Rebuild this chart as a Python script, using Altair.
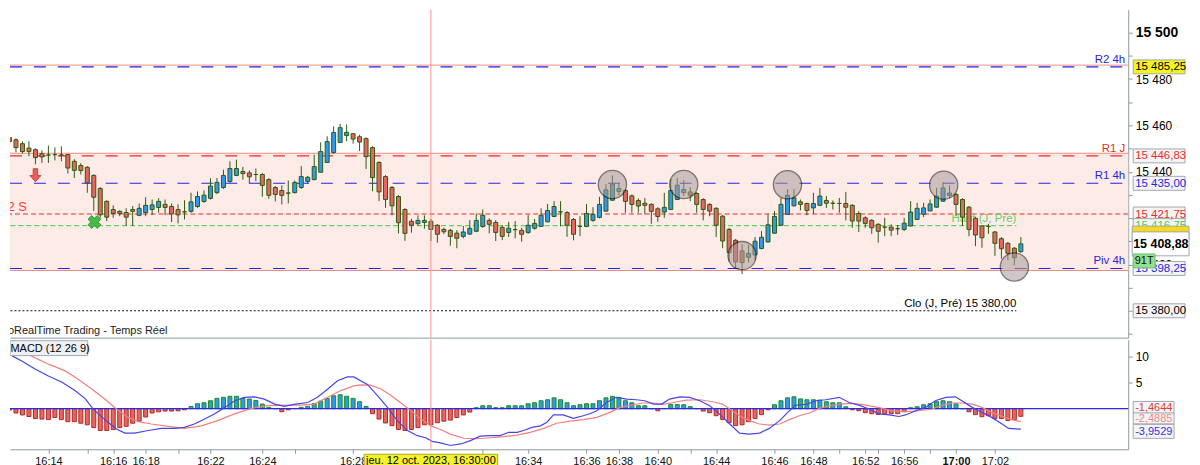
import pandas as pd
import altair as alt

FONT = 'Liberation Sans'
GREY = '#8f99a3'

# ---- price bars (tick chart, oldest first) ----
opens = [
    15454.6, 15454.7, 15453.8, 15452.1, 15450.2, 15449.5, 15447.8, 15447.2, 15447.4, 15447.2,
    15447.4, 15444.5, 15442.7, 15441.9, 15438.4, 15432.8, 15427.2, 15423.7, 15422.9, 15422.4,
    15423.7, 15421.2, 15422.4, 15423.7, 15424.6, 15425.9, 15425.0, 15423.7, 15422.7, 15422.9,
    15425.0, 15427.2, 15428.5, 15431.0, 15433.2, 15435.8, 15438.4, 15440.1, 15439.5, 15438.8,
    15438.8, 15436.6, 15433.2, 15431.9, 15430.8, 15431.0, 15433.2, 15435.8, 15436.6, 15439.8,
    15444.0, 15448.3, 15452.6, 15455.6, 15456.4, 15455.1, 15454.3, 15450.4, 15444.0, 15437.9,
    15433.2, 15429.3, 15423.7, 15418.6, 15417.6, 15418.1, 15418.6, 15416.9, 15415.1, 15414.7,
    15413.5, 15412.1, 15413.1, 15414.3, 15416.4, 15419.0, 15418.1, 15416.0, 15413.8, 15415.0,
    15414.7, 15413.8, 15415.6, 15416.4, 15418.4, 15420.7, 15422.7, 15422.4, 15419.4, 15416.4,
    15416.4, 15419.0, 15420.3, 15423.0, 15427.7, 15431.5, 15431.9, 15429.6, 15427.6, 15426.4,
    15425.9, 15424.0, 15422.6, 15423.7, 15428.0, 15431.0, 15431.3, 15430.6, 15428.0, 15425.9,
    15424.2, 15420.8, 15415.1, 15410.4, 15405.8, 15403.1, 15404.1, 15406.9, 15409.7, 15413.5,
    15416.9, 15421.6, 15425.3, 15427.0, 15426.3, 15424.4, 15425.5, 15427.6, 15426.4, 15426.3,
    15426.3, 15425.5, 15422.0, 15420.1, 15419.0, 15417.3, 15416.1, 15416.1, 15415.4, 15415.1,
    15416.6, 15419.4, 15421.6, 15423.1, 15424.7, 15427.3, 15429.8, 15430.2, 15428.0, 15424.7,
    15419.9, 15416.6, 15416.4, 15414.0, 15411.1, 15409.1, 15407.0, 15405.5]
highs = [
    15457.0, 15455.3, 15454.4, 15453.1, 15453.1, 15450.1, 15449.2, 15451.3, 15450.5, 15451.0,
    15447.8, 15445.4, 15443.7, 15442.4, 15438.9, 15433.3, 15427.7, 15425.5, 15423.4, 15424.2,
    15425.2, 15426.3, 15429.0, 15428.0, 15428.6, 15428.0, 15426.3, 15425.9, 15427.7, 15430.9,
    15431.5, 15432.0, 15437.2, 15437.3, 15440.9, 15444.5, 15445.2, 15442.1, 15440.6, 15441.4,
    15439.4, 15437.2, 15433.8, 15434.1, 15436.2, 15436.2, 15442.4, 15438.2, 15447.4, 15452.7,
    15455.3, 15459.6, 15460.7, 15460.4, 15456.7, 15456.0, 15454.8, 15451.0, 15444.5, 15438.5,
    15433.8, 15429.9, 15424.3, 15419.7, 15421.2, 15421.2, 15419.6, 15417.4, 15415.8, 15415.3,
    15414.8, 15416.6, 15419.1, 15422.0, 15423.7, 15419.9, 15419.1, 15417.0, 15418.4, 15418.7,
    15415.8, 15421.3, 15419.6, 15424.2, 15426.1, 15427.3, 15427.3, 15423.0, 15420.0, 15420.8,
    15426.1, 15424.7, 15429.2, 15434.7, 15438.4, 15435.2, 15432.5, 15430.2, 15428.5, 15428.7,
    15426.4, 15424.7, 15430.9, 15436.6, 15437.3, 15436.3, 15433.3, 15431.2, 15428.6, 15426.4,
    15424.7, 15421.3, 15415.7, 15411.0, 15408.7, 15408.4, 15411.8, 15414.4, 15421.6, 15423.0,
    15428.7, 15432.5, 15432.6, 15428.0, 15426.6, 15430.9, 15433.0, 15429.5, 15427.6, 15428.7,
    15431.3, 15426.0, 15423.0, 15420.8, 15419.6, 15417.8, 15420.1, 15417.3, 15417.0, 15420.1,
    15427.3, 15426.6, 15426.6, 15428.0, 15433.0, 15435.5, 15434.1, 15430.8, 15428.6, 15425.2,
    15420.4, 15417.0, 15417.5, 15414.4, 15411.8, 15409.7, 15407.5, 15411.8]
lows = [
    15452.3, 15451.4, 15448.4, 15447.9, 15446.7, 15443.2, 15443.8, 15443.8, 15444.9, 15444.5,
    15439.2, 15437.3, 15438.8, 15430.9, 15423.0, 15420.1, 15418.7, 15420.1, 15420.8, 15416.6,
    15416.6, 15420.8, 15420.8, 15421.3, 15422.3, 15421.2, 15418.3, 15417.7, 15419.4, 15422.3,
    15424.4, 15426.6, 15428.0, 15430.4, 15432.6, 15435.2, 15438.1, 15436.6, 15434.9, 15435.9,
    15429.2, 15428.3, 15427.2, 15425.9, 15426.3, 15430.6, 15432.6, 15434.9, 15436.3, 15439.5,
    15443.8, 15447.8, 15452.4, 15453.2, 15452.1, 15448.9, 15441.2, 15431.6, 15427.3, 15424.4,
    15421.2, 15413.4, 15410.2, 15413.7, 15416.6, 15415.4, 15410.1, 15409.4, 15413.1, 15408.1,
    15407.0, 15411.3, 15412.7, 15413.9, 15415.8, 15413.4, 15410.1, 15410.5, 15411.8, 15411.3,
    15409.8, 15413.2, 15415.0, 15416.3, 15418.1, 15420.4, 15416.4, 15411.9, 15410.4, 15412.2,
    15416.1, 15418.4, 15419.9, 15422.7, 15427.6, 15429.8, 15422.3, 15422.3, 15422.3, 15421.8,
    15417.5, 15418.4, 15420.1, 15423.6, 15427.9, 15429.6, 15427.3, 15422.3, 15419.0, 15420.8,
    15411.8, 15407.0, 15401.2, 15398.2, 15395.8, 15400.8, 15401.8, 15406.5, 15409.4, 15413.2,
    15416.6, 15421.3, 15425.0, 15423.3, 15421.2, 15421.8, 15425.2, 15424.4, 15423.7, 15422.3,
    15419.0, 15415.8, 15414.0, 15415.8, 15413.2, 15409.4, 15412.2, 15412.2, 15412.7, 15414.4,
    15416.4, 15419.1, 15420.4, 15423.0, 15424.4, 15427.0, 15428.7, 15420.8, 15416.6, 15412.2,
    15407.9, 15407.2, 15413.2, 15403.7, 15402.5, 15401.9, 15399.7, 15405.1]
closes = [
    15454.6, 15453.0, 15450.4, 15448.7, 15448.7, 15446.1, 15446.4, 15447.2, 15447.4, 15447.2,
    15441.6, 15440.6, 15440.5, 15435.2, 15429.0, 15421.4, 15420.4, 15422.0, 15422.0, 15420.4,
    15422.9, 15424.2, 15425.5, 15425.7, 15427.2, 15424.6, 15421.8, 15421.4, 15422.7, 15427.0,
    15429.3, 15429.9, 15433.8, 15435.4, 15438.4, 15441.4, 15441.4, 15439.2, 15437.8, 15438.8,
    15434.1, 15429.8, 15430.2, 15429.8, 15430.8, 15435.4, 15437.9, 15437.6, 15442.2, 15448.7,
    15453.0, 15456.9, 15459.0, 15457.0, 15454.1, 15452.8, 15446.5, 15437.5, 15431.3, 15428.0,
    15425.3, 15418.0, 15413.4, 15416.9, 15419.0, 15419.0, 15415.1, 15413.0, 15414.1, 15412.1,
    15411.3, 15414.0, 15415.6, 15419.0, 15421.2, 15417.3, 15413.8, 15412.1, 15415.6, 15415.0,
    15413.0, 15416.9, 15417.7, 15421.2, 15423.3, 15425.0, 15422.7, 15416.9, 15413.0, 15416.4,
    15422.0, 15421.6, 15425.9, 15432.2, 15434.7, 15432.8, 15427.2, 15425.9, 15425.2, 15425.5,
    15422.9, 15420.7, 15424.6, 15431.9, 15434.2, 15432.3, 15429.8, 15425.9, 15423.7, 15423.0,
    15416.9, 15410.1, 15405.1, 15401.1, 15400.8, 15404.8, 15410.0, 15411.7, 15417.1, 15420.7,
    15425.9, 15429.8, 15428.7, 15425.9, 15423.3, 15426.3, 15429.5, 15426.4, 15426.4, 15426.3,
    15424.7, 15418.7, 15418.7, 15417.7, 15415.8, 15414.3, 15416.1, 15414.8, 15415.4, 15417.8,
    15422.6, 15424.2, 15424.4, 15426.1, 15429.5, 15433.0, 15430.8, 15425.9, 15420.4, 15415.1,
    15412.7, 15411.5, 15416.4, 15409.1, 15406.8, 15404.8, 15402.9, 15408.88]

# ---- MACD (12 26 9) ----
hist = [
    0.45, -0.26, -0.83, -1.2, -1.5, -1.9, -2.0, -2.1, -1.7, -2.1,
    -2.5, -2.5, -2.8, -3.1, -3.65, -4.2, -4.2, -4.0, -3.65, -3.4,
    -2.8, -2.4, -1.6, -0.83, -0.6, -0.45, -0.45, -0.4, -0.2, 0.45,
    0.96, 1.15, 1.54, 2.0, 2.2, 2.4, 2.4, 2.0, 1.86, 1.6,
    0.9, 0.26, 0.0, -0.58, -0.2, 0.05, 0.26, 0.45, 1.0, 1.47,
    2.0, 2.5, 2.7, 2.4, 2.0, 1.35, 0.45, -0.96, -2.0, -2.75,
    -3.27, -4.0, -4.2, -4.0, -3.65, -3.1, -3.1, -2.7, -2.4, -2.2,
    -1.7, -1.2, -0.64, 0.2, 0.58, 0.58, 0.2, 0.2, 0.58, 0.58,
    0.58, 0.96, 1.15, 1.54, 1.73, 2.1, 1.73, 1.15, 0.58, 0.77,
    0.96, 0.96, 1.54, 2.1, 2.4, 2.2, 1.54, 1.15, 0.58, 0.58,
    0.0, -0.4, 0.05, 0.83, 0.83, 0.77, 0.4, 0.0, -0.45, -0.77,
    -1.35, -2.1, -2.7, -3.27, -3.1, -2.5, -1.9, -1.15, -0.2, 0.77,
    1.54, 2.1, 2.3, 1.9, 1.73, 1.73, 1.67, 1.35, 1.15, 1.15,
    0.38, -0.2, -0.38, -0.77, -0.96, -1.1, -0.96, -0.96, -0.96, -0.58,
    0.2, 0.38, 0.77, 0.96, 1.35, 1.54, 1.35, 0.96, 0.0, -0.58,
    -1.15, -1.54, -1.35, -1.9, -1.9, -2.3, -2.1, -1.4644]
macd_i = [1.4, 2.9, 5.0, 7.0, 9.1, 11.1, 12.7, 13.7, 14.7, 16.2, 17.5, 18.8, 20.3, 22.4, 24.4,
          26.5, 28.0, 29.6, 31.1, 32.6, 34.2, 35.7, 37.2, 38.8, 40.3, 41.9, 43.4, 44.9, 47.0,
          48.5, 50.1, 51.6, 53.1, 54.1, 56.2, 57.8, 59.3, 60.8, 62.4, 63.9, 65.2, 66.2, 67.5,
          69.0, 70.6, 72.1, 73.6, 75.2, 76.7, 78.0, 79.3, 80.3, 81.6, 82.9, 83.9, 84.9, 86.4,
          88.0, 89.5, 90.5, 91.6, 93.1, 94.6, 96.2, 97.7, 99.0, 100.3, 101.6, 102.8, 104.4,
          105.9, 107.5, 109.0, 110.5, 112.1, 113.6, 115.1, 116.7, 118.2, 119.8, 121.3, 122.3,
          123.9, 125.4, 126.9, 129.0, 130.5, 132.0, 133.6, 135.1, 136.7, 138.2, 139.2, 140.8,
          142.3, 143.8, 145.4, 146.9, 147.9, 149.5, 151.0, 152.5, 154.1, 155.1, 156.2, 157.0]
macd_v = [10.2, 9.2, 7.6, 6.3, 5.1, 3.5, 1.9, 0.26, -1.0, -2.6, -3.9, -4.7, -4.7, -4.2, -3.8,
          -3.8, -3.6, -2.9, -2.0, -1.0, 0.26, 1.5, 2.2, 2.3, 1.86, 0.9, 0.45, 0.83, 1.2,
          2.2, 3.8, 5.4, 6.15, 6.15, 4.7, 2.5, 0.26, -2.3, -4.2, -5.2, -5.6, -6.3, -6.6,
          -7.1, -6.8, -6.15, -5.3, -5.2, -5.2, -4.55, -4.55, -4.2, -3.6, -3.3, -2.6, -1.2, -1.2,
          -1.86, -1.35, -0.96, -0.38, 1.2, 2.2, 1.86, 1.73, 1.54, 0.9, 0.9, 1.86, 2.3,
          2.2, 1.54, 0.58, -1.0, -2.95, -4.7, -4.9, -4.7, -3.8, -2.3, -0.38, 0.7,
          0.83, 1.54, 1.73, 2.2, 1.2, 0.7, -0.06, -1.0, -1.2, -1.5, -1.2, -0.38,
          0.26, 1.54, 2.2, 2.3, 1.54, 0.26, -0.7, -1.67, -2.95, -3.8, -3.9, -3.9529]
sig_i = [4.0, 7.0, 9.6, 11.6, 13.7, 15.7, 17.5, 19.3, 20.9, 22.9, 25.5, 28.0, 30.6, 33.1, 35.7,
         38.3, 40.8, 43.4, 46.0, 48.0, 50.1, 52.1, 54.1, 55.2, 56.7, 58.3, 59.8, 61.3, 62.9,
         64.4, 65.9, 67.5, 69.0, 71.1, 73.1, 75.2, 77.2, 79.3, 81.3, 83.4, 85.4, 87.5, 89.5,
         91.6, 93.6, 95.2, 97.2, 98.7, 100.3, 101.8, 103.4, 105.4, 107.5, 109.5, 111.0, 112.1,
         113.6, 115.1, 116.7, 118.2, 119.8, 121.3, 122.8, 124.4, 125.9, 127.5, 129.0, 131.0,
         133.1, 135.1, 137.2, 139.2, 141.3, 143.3, 144.9, 146.4, 147.9, 149.5, 151.0, 152.5,
         154.1, 155.6, 157.0]
sig_v = [10.4, 8.6, 7.3, 5.7, 3.8, 1.86, -0.06, -1.67, -2.5, -2.95, -3.4, -3.8, -3.3, -2.3, -1.0,
         0.06, 0.58, 0.7, 0.7, 0.9, 2.2, 3.5, 4.4, 4.6, 4.55, 3.8, 2.6, 1.2, -0.38,
         -1.86, -3.27, -4.0, -4.9, -5.7, -5.8, -5.6, -5.4, -5.1, -4.55, -3.8, -2.8, -2.4, -2.1,
         -1.67, -0.7, 0.26, 0.77, 1.1, 1.1, 0.83, 1.2, 1.67, 1.73, 1.35, 0.9, -0.06,
         -1.35, -2.3, -2.95, -3.15, -2.95, -2.1, -1.35, -0.83, 0.06, 0.58, 0.9, 1.03,
         0.7, 0.2, -0.38, -0.58, -0.38, -0.06, 0.7, 1.1, 1.1, 0.9, 0.26, -0.7,
         -1.47, -2.1, -2.4885]

# ---- levels ----
band_top, band_bottom = 15448.0, 15397.4
lev_p = [15486.0, 15485.25, 15448.0, 15446.83, 15435.0, 15421.75, 15398.25, 15397.4]
lev_col = ['#f5a3a3', '#2424e0', '#f08a80', '#ee2b2b', '#2424e0', '#ee2b2b', '#2424e0', '#f08a80']
lev_dash = [[1, 0], [12, 12], [1, 0], [12, 12], [12, 12], [5, 3], [12, 12], [1, 0]]
prev_p = [15416.75, 15380.0]
prev_col = ['#63d063', '#111111']
prev_dash = [[5, 3], [2, 2]]
prev_txt = ['Haut (J, Pré)', 'Clo (J, Pré) 15 380,00']
prev_end = 156.3

tag_p = [15485.25, 15446.83, 15435.0, 15398.25]
tag_txt = ['R2 4h', 'R1 J', 'R1 4h', 'Piv 4h']
tag_col = ['#2424e0', '#ee2b2b', '#2424e0', '#2424e0']

box_p = [15485.25, 15446.83, 15435.0, 15421.75, 15416.75, 15398.25, 15380.0]
box_txt = ['15 485,25', '15 446,83', '15 435,00', '15 421,75', '15 416,75', '15 398,25', '15 380,00']
box_col = ['#000000', '#ee2b2b', '#2424e0', '#ee2b2b', '#55c855', '#2424e0', '#000000']
box_bg = ['#f4f420', '#f4f4f4', '#f4f4f4', '#f4f4f4', '#f4f4f4', '#f4f4f4', '#f4f4f4']
hidden_box_p = [15413.5]
last_p = [15408.88]
last_txt = ['15 408,88']

circle_i = [94.0, 105.0, 121.0, 114.0, 145.1, 156.0]
circle_p = [15434.5, 15434.5, 15434.4, 15403.8, 15434.2, 15398.9]
arrow_i, arrow_p = [5.0], [15438.5]
cross_i, cross_p = [14.1], [15418.3]
cursor_i = [66]
cursor_txt = ['jeu. 12 oct. 2023, 16:30:00']

tick_idx = [7, 13, 17, 22, 27, 32, 40, 45, 54, 74, 81, 90, 95, 101, 106, 110, 119, 125,
            129, 133, 135, 139, 143, 147, 153]
label_idx = [7, 17, 22, 32, 40, 54, 74, 81, 90, 95, 101, 110, 119, 125, 133, 139, 147, 153]
label_txt = ['16:14', '16:16', '16:18', '16:22', '16:24', '16:28', '16:32', '16:34', '16:36',
             '16:38', '16:40', '16:44', '16:46', '16:48', '16:52', '16:56', '17:00', '17:02']

macd_box_txt = ['-1,4644', '-2,4885', '-3,9529']
macd_box_col = ['#e03c3c', '#f08a8a', '#3333dd']

# ---- layout ----
W, H_PRICE, H_MACD = 1122, 329, 110
x_scale = alt.Scale(domain=[1.076, 173.56], nice=False, zero=False, padding=0)
p_scale = alt.Scale(domain=[15368.39, 15509.89], nice=False, zero=False, padding=0)
m_scale = alt.Scale(domain=[-7.83, 13.33], nice=False, zero=False, padding=0)

x_axis_top = alt.Axis(labels=False, ticks=False, grid=False, domainColor=GREY,
                      minExtent=0, maxExtent=0, title=None)
lbl_expr = ("[" + ",".join(f"'{t}'" for t in label_txt) + "][indexof(["
            + ",".join(str(v) for v in label_idx) + "], datum.value)] || ''")
x_axis_bot = alt.Axis(values=tick_idx, labelExpr=lbl_expr, labelFontSize=11, labelColor='#111',
                      labelFontWeight={'condition': {'test': 'datum.value == 147', 'value': 'bold'},
                                       'value': 'normal'},
                      tickColor=GREY, tickSize=4, domainColor=GREY, grid=False,
                      labelOverlap=False, labelFlush=False, labelPadding=2, title=None)
p_axis = alt.Axis(orient='right', values=list(range(15370, 15510, 10)),
                  labelExpr="datum.value % 20 == 0 ? replace(format(datum.value, ','), ',', ' ') : ''",
                  labelFontSize={'condition': {'test': 'datum.value == 15500', 'value': 14}, 'value': 12},
                  labelFontWeight={'condition': {'test': 'datum.value == 15500', 'value': 'bold'},
                                   'value': 'normal'},
                  labelColor='#000', tickColor=GREY, tickSize=4, domainColor=GREY, grid=False,
                  labelPadding=3, title=None)
m_axis = alt.Axis(orient='right', values=[10, 5], labelFontSize=12, labelColor='#000',
                  tickColor=GREY, tickSize=4, domainColor=GREY, grid=False, labelPadding=3,
                  title=None)


def tx(f):
    return alt.X(f, type='quantitative', scale=x_scale, axis=x_axis_top)


def ty(f):
    return alt.Y(f, type='quantitative', scale=p_scale, axis=p_axis)


def bx(f):
    return alt.X(f, type='quantitative', scale=x_scale, axis=x_axis_bot)


def by(f):
    return alt.Y(f, type='quantitative', scale=m_scale, axis=m_axis)


def box_shape(w, h):
    r = h / w
    return f"M-1,-{r:.4f}L1,-{r:.4f}L1,{r:.4f}L-1,{r:.4f}Z"


candles = pd.DataFrame({'i': range(len(opens)), 'o': opens, 'h': highs, 'l': lows, 'c': closes})
candles['dir'] = ['up' if c > o else 'down' for o, c in zip(opens, closes)]

# ---- price panel ----
layers = []
layers.append(alt.Chart(pd.DataFrame({'top': [band_top], 'bot': [band_bottom]}))
              .mark_rect(color='#fdebe8')
              .encode(x=alt.value(0), x2=alt.value(W), y=ty('top'), y2='bot'))
for p, col, dash in zip(lev_p, lev_col, lev_dash):
    off = 18 if dash == [12, 12] else 0
    layers.append(alt.Chart(pd.DataFrame({'p': [p]}))
                  .mark_rule(color=col, strokeDash=dash, strokeDashOffset=off, strokeWidth=1.1)
                  .encode(y=ty('p')))
prev = pd.DataFrame({'p': prev_p, 't': prev_txt, 'x0': [-5, -5], 'x1': [prev_end, prev_end]})
for k in range(len(prev_p)):
    layers.append(alt.Chart(prev.iloc[[k]])
                  .mark_rule(color=prev_col[k], strokeDash=prev_dash[k], strokeWidth=1.1, clip=True)
                  .encode(x=tx('x0'), x2='x1', y=ty('p')))
    layers.append(alt.Chart(prev.iloc[[k]])
                  .mark_text(align='right', baseline='middle', dy=-7, fontSize=11.5,
                             color=prev_col[k] if k == 0 else '#000')
                  .encode(x=tx('x1'), y=ty('p'), text='t:N'))
layers.append(alt.Chart(candles).mark_rule(color='#2d5a12', strokeWidth=1, clip=True)
              .encode(x=tx('i'), y=ty('l'), y2='h'))
layers.append(alt.Chart(candles).mark_bar(width=4, stroke='#2d5a12', strokeWidth=1, clip=True)
              .encode(x=tx('i'), y=ty('o'), y2='c',
                      fill=alt.Fill('dir:N', scale=alt.Scale(domain=['up', 'down'],
                                                             range=['#2f9be8', '#e8665d']),
                                    legend=None)))
layers.append(alt.Chart(pd.DataFrame({'i': circle_i, 'p': circle_p}))
              .mark_circle(size=800, color='#a89a9a', opacity=0.55, stroke='#111',
                           strokeWidth=1.3, strokeOpacity=1)
              .encode(x=tx('i'), y=ty('p')))
layers.append(alt.Chart(pd.DataFrame({'i': arrow_i, 'p': arrow_p}))
              .mark_point(shape='M-0.35,-1L0.35,-1L0.35,0.05L0.85,0.05L0,1L-0.85,0.05L-0.35,0.05Z',
                          size=169, filled=True, fill='#ee5a5a', stroke='#c03030',
                          strokeWidth=0.8, opacity=1)
              .encode(x=tx('i'), y=ty('p')))
layers.append(alt.Chart(pd.DataFrame({'i': cross_i, 'p': cross_p}))
              .mark_point(shape='cross', angle=45, size=170, filled=True, fill='#44bb44',
                          stroke='#2e8b2e', strokeWidth=0.8, opacity=1)
              .encode(x=tx('i'), y=ty('p')))
layers.append(alt.Chart(pd.DataFrame({'p': tag_p, 't': tag_txt, 'c': tag_col}))
              .mark_text(align='right', baseline='middle', dy=-7, fontSize=11.5)
              .encode(x=alt.value(1119), y=ty('p'), text='t:N', color=alt.Color('c:N', scale=None)))
layers.append(alt.Chart(pd.DataFrame({'p': [15421.75], 't': ['nR2 S']}))
              .mark_text(align='right', baseline='middle', dy=-7, fontSize=13, color='#ff3b3b',
                         clip=True)
              .encode(x=alt.value(17), y=ty('p'), text='t:N'))
layers.append(alt.Chart(pd.DataFrame({'t': ['ProRealTime Trading - Temps Réel']}))
              .mark_text(align='left', baseline='middle', fontSize=11, color='#222', clip=True)
              .encode(x=alt.value(-13), y=alt.value(322), text='t:N'))
layers.append(alt.Chart(pd.DataFrame({'i': cursor_i}))
              .mark_rule(color='#ff9090', strokeWidth=1).encode(x=tx('i')))
pbox = pd.DataFrame({'p': box_p, 't': box_txt, 'c': box_col, 'bg': box_bg})
layers.append(alt.Chart(pbox)
              .mark_point(shape=box_shape(52, 14), size=52 * 52, filled=True, opacity=1,
                          stroke='#a0a8b0', strokeWidth=1, clip=False)
              .encode(x=alt.value(1153), y=ty('p'), fill=alt.Fill('bg:N', scale=None)))
layers.append(alt.Chart(pbox)
              .mark_text(align='left', baseline='middle', fontSize=11.5, dy=0.5, clip=False)
              .encode(x=alt.value(1129), y=ty('p'), text='t:N', color=alt.Color('c:N', scale=None)))
layers.append(alt.Chart(pd.DataFrame({'p': hidden_box_p}))
              .mark_point(shape=box_shape(57, 14), size=57 * 57, filled=True, opacity=1,
                          fill='#f8d81a', stroke='#a0a8b0', strokeWidth=1, clip=False)
              .encode(x=alt.value(1154.5), y=ty('p')))
layers.append(alt.Chart(pd.DataFrame({'p': last_p, 't': last_txt}))
              .mark_point(shape=box_shape(57, 24), size=57 * 57, filled=True, opacity=1,
                          fill='#ffffff', stroke='#a0a8b0', strokeWidth=1, clip=False)
              .encode(x=alt.value(1154.5), y=ty('p')))
layers.append(alt.Chart(pd.DataFrame({'p': last_p, 't': last_txt}))
              .mark_text(align='left', baseline='middle', fontSize=12.5, fontWeight='bold',
                         color='#000', clip=False)
              .encode(x=alt.value(1127), y=ty('p'), text='t:N'))
layers.append(alt.Chart(pd.DataFrame({'t': ['91T']}))
              .mark_point(shape=box_shape(22, 14), size=22 * 22, filled=True, opacity=1,
                          fill='#8fe08f', stroke='#6fbf6f', strokeWidth=1, clip=False)
              .encode(x=alt.value(1138), y=alt.value(252)))
layers.append(alt.Chart(pd.DataFrame({'t': ['91T']}))
              .mark_text(align='center', baseline='middle', fontSize=11, color='#111', clip=False)
              .encode(x=alt.value(1138), y=alt.value(252.5), text='t:N'))

price = alt.layer(*layers).properties(width=W, height=H_PRICE)

# ---- MACD panel ----
hdf = pd.DataFrame({'i': range(len(hist)), 'h': hist})
hdf['s'] = ['p' if v >= 0 else 'n' for v in hist]
mlayers = []
mlayers.append(alt.Chart(hdf).mark_bar(width=4, strokeWidth=1, clip=True)
               .encode(x=bx('i'), y=by('h'), y2=alt.datum(0),
                       fill=alt.Fill('s:N', scale=alt.Scale(domain=['p', 'n'],
                                                            range=['#4ccc4c', '#e8706a']),
                                     legend=None),
                       stroke=alt.Stroke('s:N', scale=alt.Scale(domain=['p', 'n'],
                                                                range=['#1f8a1f', '#b02a2a']),
                                         legend=None)))
mlayers.append(alt.Chart(pd.DataFrame({'z': [0]})).mark_rule(color='#2a2ae6', strokeWidth=1.3)
               .encode(y=by('z')))
mlayers.append(alt.Chart(pd.DataFrame({'i': sig_i, 'v': sig_v}))
               .mark_line(color='#f08080', strokeWidth=1.2, clip=True)
               .encode(x=bx('i'), y=by('v')))
mlayers.append(alt.Chart(pd.DataFrame({'i': macd_i, 'v': macd_v}))
               .mark_line(color='#4646e8', strokeWidth=1.2, clip=True)
               .encode(x=bx('i'), y=by('v')))
mlayers.append(alt.Chart(pd.DataFrame({'i': cursor_i}))
               .mark_rule(color='#ff9090', strokeWidth=1).encode(x=bx('i')))
mlayers.append(alt.Chart(pd.DataFrame({'t': ['MACD (12 26 9)']}))
               .mark_point(shape=box_shape(78, 15), size=78 * 78, filled=True, opacity=1,
                           fill='#eef1f4', stroke='#a0a8b0', strokeWidth=1, clip=True)
               .encode(x=alt.value(39), y=alt.value(8.5)))
mlayers.append(alt.Chart(pd.DataFrame({'t': ['MACD (12 26 9)']}))
               .mark_text(align='left', baseline='middle', fontSize=11, color='#000', clip=True)
               .encode(x=alt.value(0.5), y=alt.value(9), text='t:N'))
mbox = pd.DataFrame({'t': macd_box_txt, 'c': macd_box_col})
for k, (yy, hh) in enumerate([(68, 12), (79, 11), (92, 14)]):
    mlayers.append(alt.Chart(mbox.iloc[[k]])
                   .mark_point(shape=box_shape(41, hh), size=41 * 41, filled=True, opacity=1,
                               fill='#f4f4f4', stroke='#a0a8b0', strokeWidth=1, clip=False)
                   .encode(x=alt.value(1147.5), y=alt.value(yy)))
    mlayers.append(alt.Chart(mbox.iloc[[k]])
                   .mark_text(align='left', baseline='middle', fontSize=11, clip=False)
                   .encode(x=alt.value(1129), y=alt.value(yy + 0.5), text='t:N',
                           color=alt.Color('c:N', scale=None)))
cur = pd.DataFrame({'i': cursor_i, 't': cursor_txt})
mlayers.append(alt.Chart(cur)
               .mark_point(shape=box_shape(134, 13), size=134 * 134, filled=True, opacity=1,
                           fill='#f6f22a', stroke='#b0a820', strokeWidth=1, clip=False)
               .encode(x=bx('i'), y=alt.value(121.5)))
mlayers.append(alt.Chart(cur)
               .mark_text(align='center', baseline='middle', fontSize=11, color='#000', clip=False)
               .encode(x=bx('i'), y=alt.value(122), text='t:N'))

macd = alt.layer(*mlayers).properties(width=W, height=H_MACD)

chart = (alt.vconcat(price, macd, spacing=0)
         .properties(padding=0, background='white')
         .configure(font=FONT)
         .configure_view(stroke='transparent'))

chart.save("out.html", embed_options={"renderer": "svg", "actions": False})
